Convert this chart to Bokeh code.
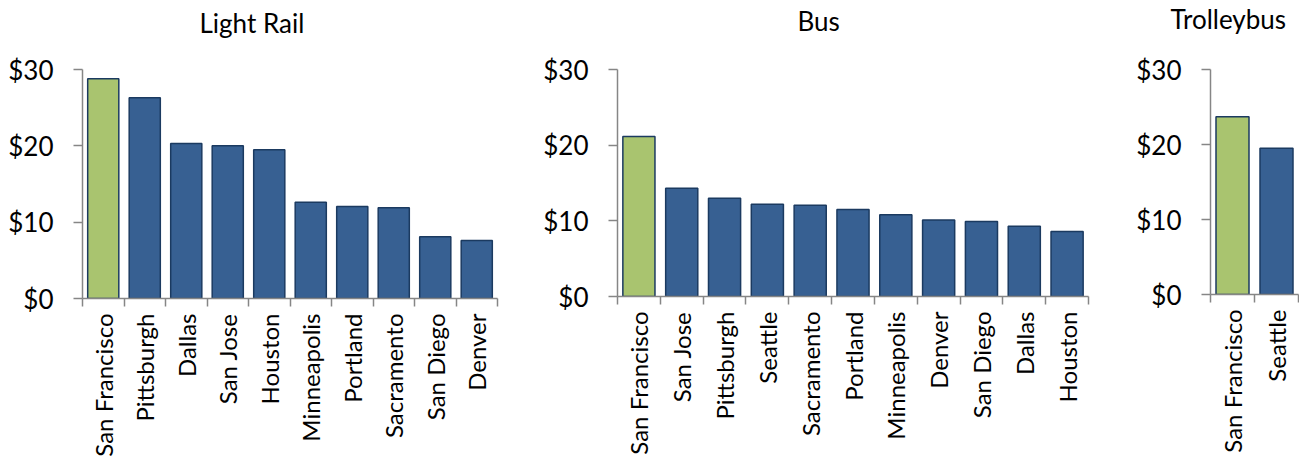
import math
from bokeh.plotting import figure
from bokeh.layouts import row
from bokeh.models import (FixedTicker, CustomJSTickFormatter, Range1d, Title,
                          ColumnDataSource, PrintfTickFormatter)
from bokeh.embed import file_html
from bokeh.resources import INLINE

# ---- data ----
lr_cities = ["San Francisco", "Pittsburgh", "Dallas", "San Jose", "Houston",
             "Minneapolis", "Portland", "Sacramento", "San Diego", "Denver"]
lr_values = [28.8, 26.3, 20.3, 20.0, 19.5, 12.6, 12.05, 11.9, 8.1, 7.6]

bus_cities = ["San Francisco", "San Jose", "Pittsburgh", "Seattle", "Sacramento",
              "Portland", "Minneapolis", "Denver", "San Diego", "Dallas", "Houston"]
bus_values = [21.15, 14.3, 13.0, 12.2, 12.05, 11.5, 10.8, 10.1, 9.9, 9.3, 8.6]

tb_cities = ["San Francisco", "Seattle"]
tb_values = [23.7, 19.5]

y_ticks = [0, 10, 20, 30]
highlight = "San Francisco"

BLUE = "#376092"
GREEN = "#A9C46F"
EDGE = "#1B3A60"
GRAY = "#868686"
FONT = "Lato"
FS = "26px"
FSX = "24px"


def panel(title, cities, values, bl, fw, br, bt, fh, tb_offset, spacer):
    n = len(cities)
    xs = [i + 0.5 for i in range(n)]
    colors = [GREEN if c == highlight else BLUE for c in cities]
    src = ColumnDataSource(dict(x=xs, top=values, color=colors, name=cities))
    p = figure(frame_width=fw, frame_height=fh,
               x_range=Range1d(0, n), y_range=Range1d(0, 30),
               output_backend="svg", toolbar_location=None,
               min_border_left=bl, min_border_right=br, min_border_top=bt,
               min_border_bottom=454 - bt - fh)
    p.vbar(x="x", top="top", width=0.75, bottom=0, source=src,
           fill_color="color", line_color=EDGE, line_width=1.5)
    p.outline_line_color = None
    p.grid.visible = False
    p.background_fill_color = "white"
    p.border_fill_color = "white"

    xa = p.xaxis[0]
    xa.ticker = FixedTicker(ticks=xs, minor_ticks=list(range(n + 1)))
    xa.formatter = CustomJSTickFormatter(args=dict(names=cities),
                                         code="return names[Math.floor(tick)];")
    xa.major_label_orientation = math.pi / 2
    xa.major_tick_out = 0
    xa.major_tick_in = 0
    xa.minor_tick_out = 8
    xa.minor_tick_in = 0
    xa.minor_tick_line_color = GRAY
    xa.minor_tick_line_width = 1.5
    xa.axis_line_color = GRAY
    xa.axis_line_width = 1.5
    xa.major_label_standoff = 7
    xa.major_label_text_font = FONT
    xa.major_label_text_font_size = FSX
    xa.major_label_text_color = "black"

    ya = p.yaxis[0]
    ya.ticker = FixedTicker(ticks=y_ticks)
    ya.formatter = PrintfTickFormatter(format="$%d")
    ya.major_tick_out = 9
    ya.major_tick_in = 0
    ya.minor_tick_out = 0
    ya.minor_tick_in = 0
    ya.major_tick_line_color = GRAY
    ya.major_tick_line_width = 1.5
    ya.axis_line_color = GRAY
    ya.axis_line_width = 1.5
    ya.major_label_standoff = 20
    ya.major_label_text_font = FONT
    ya.major_label_text_font_size = FS
    ya.major_label_text_color = "black"

    # spacer (nearest the frame), then the visible title above it
    p.add_layout(Title(text=" ", text_font_size="20px", standoff=spacer,
                       text_font=FONT), "above")
    p.add_layout(Title(text=title, align="left", offset=tb_offset,
                       text_font=FONT, text_font_size=FS,
                       text_font_style="normal", text_color="black",
                       standoff=0), "above")
    return p


p1 = panel("Light Rail", lr_cities, lr_values, 82, 415, 43, 62, 229, 117, 5)
p2 = panel("Bus", bus_cities, bus_values, 77, 471, 42, 64, 227, 180, 7)
p3 = panel("Trolleybus", tb_cities, tb_values, 80, 88, 1, 66, 225, -40, 9)

layout = row(p1, p2, p3)
open("out.html", "w").write(file_html(layout, INLINE))
